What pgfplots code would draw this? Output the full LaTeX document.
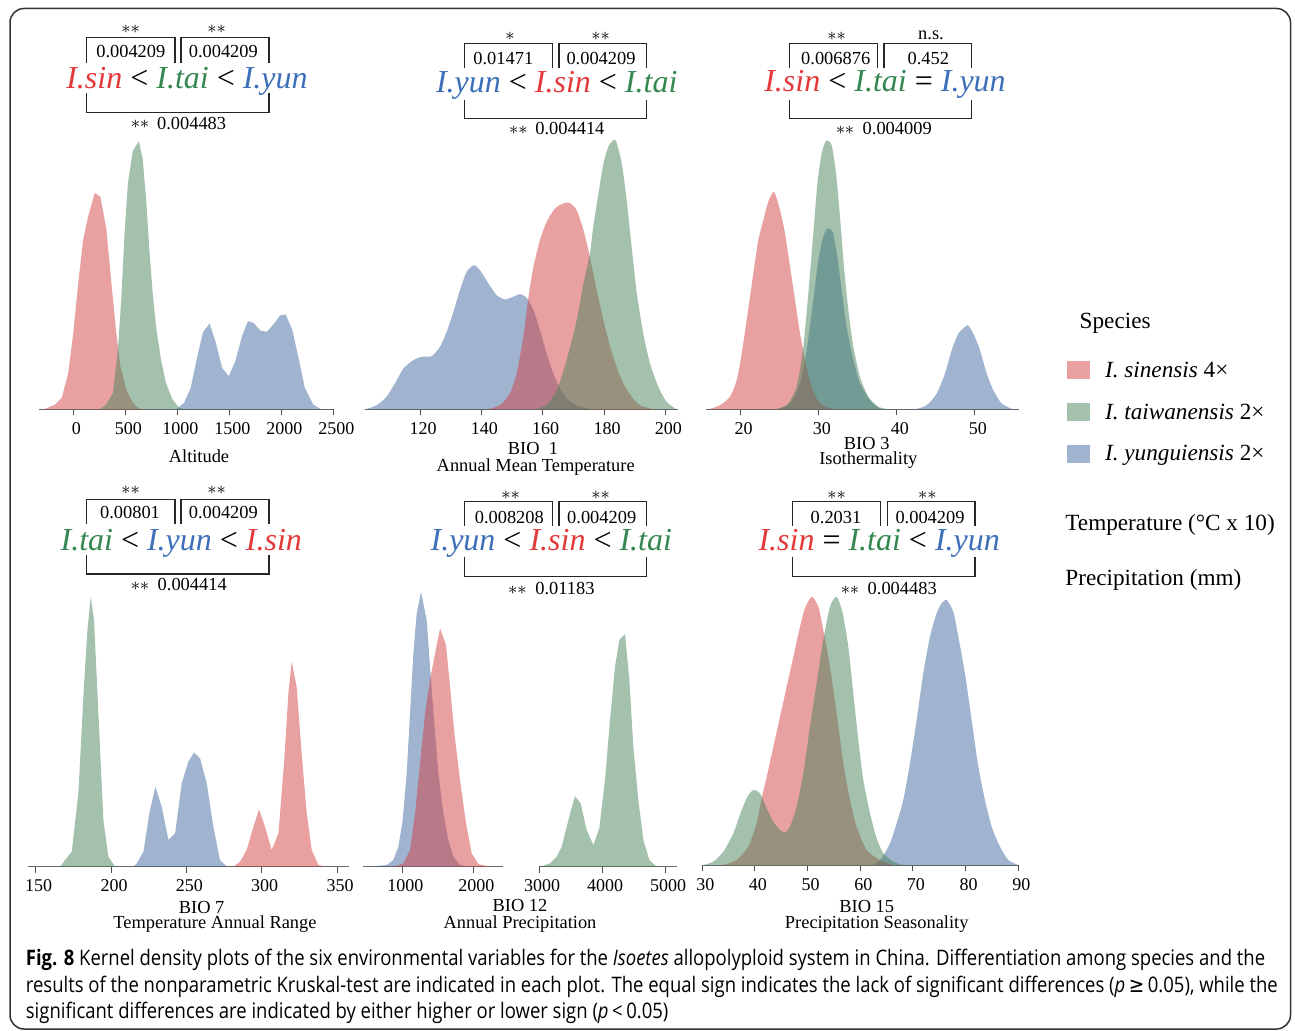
\documentclass[border=0pt]{standalone}
\usepackage{pgfplots}
\pgfplotsset{compat=1.18}
\usepackage{fontspec}
\setmainfont{Liberation Serif}
\newfontfamily\capfont{Open Sans}[FakeStretch=0.864]
\newfontfamily\capsym{DejaVu Sans}[FakeStretch=0.864]
\definecolor{fred}{RGB}{209,65,65}
\definecolor{fgreen}{RGB}{71,131,91}
\definecolor{fblue}{RGB}{65,105,161}
\definecolor{tred}{RGB}{226,58,58}
\definecolor{tgreen}{RGB}{52,135,80}
\definecolor{tblue}{RGB}{60,110,185}
\newcommand{\Isin}{\textcolor{tred}{\textit{I.sin}}}
\newcommand{\Itai}{\textcolor{tgreen}{\textit{I.tai}}}
\newcommand{\Iyun}{\textcolor{tblue}{\textit{I.yun}}}
\pgfplotsset{kd/.style={scale only axis, anchor=south west, axis y line=none, axis x line*=bottom,
  ymin=0, ymax=280, height=140pt, clip=false,
  axis line style={-,black!60,line width=0.5pt}, tick align=outside, major tick length=3pt,
  tick style={black!70,line width=0.5pt}, minor tick num=0, scaled x ticks=false,
  xticklabel style={font=\fontsize{9}{10}\selectfont, anchor=base, yshift=-9.5pt, xshift=1.5pt, inner sep=0pt},
  /pgf/number format/assume math mode=true, /pgf/number format/1000 sep={}},
  pr/.style={draw=none, fill=fred, fill opacity=0.5},
  pg/.style={draw=none, fill=fgreen, fill opacity=0.5},
  pb/.style={draw=none, fill=fblue, fill opacity=0.5}}
\begin{document}
\begin{tikzpicture}
% ---------- Panel 1: Altitude
\begin{axis}[kd, at={(19.5pt,-204.75pt)}, width=147.15pt, xmin=-330, xmax=2500, xtick={0,500,...,2500}]
\addplot[pb] coordinates {(986,0) (1065,6.7) (1129,21.7) (1193,53.3) (1247,77.3) (1310,86) (1367,68.3) (1431,41.7) (1495,33.3) (1558,48.3) (1622,73.3) (1679,88.3) (1733,86.7) (1797,79) (1860,77.7) (1924,85) (1988,94) (2042,95) (2105,80) (2162,53.3) (2226,21.7) (2306,5) (2385,0)} \closedcycle;
\addplot[pr] coordinates {(-286,0) (-175,5) (-111,11.7) (-48,36.7) (0,76.7) (48,126.7) (95,170) (143,193.3) (207,216.7) (261,212.7) (318,180) (366,126.7) (413,76.7) (452,43.3) (509,20) (572,6.7) (636,0.7) (700,0)} \closedcycle;
\addplot[pg] coordinates {(254,0) (318,5) (382,16.7) (429,60) (461,110) (493,176.7) (525,226.7) (572,258.3) (630,268.3) (668,250) (700,210) (731,160) (763,116.7) (795,83.3) (843,50) (890,26.7) (954,10) (1018,1.7) (1081,0)} \closedcycle;
\end{axis}
% ---------- Panel 2: BIO 1
\begin{axis}[kd, at={(182.4pt,-204.75pt)}, width=156.4pt, xmin=102, xmax=204, xtick={120,140,...,200}]
\addplot[pb, smooth, tension=0.4] coordinates {(102.1,0) (105.9,4.3) (109.1,12.7) (111.8,26) (114.6,41) (117.8,49.3) (120.5,52.7) (123.8,53.3) (126.5,62.7) (128.7,77.7) (130.9,97.7) (133.0,119.3) (135.2,137.7) (137.6,144.3) (139.6,139.3) (142.3,126) (145.0,114.3) (147.7,110) (150.4,112.7) (152.6,115.3) (154.8,111.7) (157.0,99.3) (159.1,79.3) (161.3,56) (163.5,36) (165.7,21) (168.4,9.3) (172.2,2.7) (176.5,0)} \closedcycle;
\addplot[pr, smooth, tension=0.4] coordinates {(141.7,0) (146.1,4.3) (149.3,16) (151.5,36) (153.7,72.7) (155.3,111) (157.0,142.7) (159.1,169.3) (161.3,187.7) (164.0,201) (166.7,206) (168.7,206.7) (171.1,199.3) (173.3,179.3) (175.4,152.7) (177.6,119.3) (179.8,89.3) (182.0,62.7) (184.1,42.7) (186.3,26) (189.0,12.7) (191.7,4.3) (196.1,0)} \closedcycle;
\addplot[pg, smooth, tension=0.4] coordinates {(157.0,0) (161.3,4.3) (164.6,19.3) (167.8,49.3) (171.1,89.3) (173.3,126) (175.4,156) (176.5,182.7) (178.2,216) (179.8,246) (181.4,262.7) (182.8,268.7) (183.9,268.7) (185.8,246) (187.4,209.3) (189.0,162.7) (190.7,116) (192.8,76) (195.0,46) (197.7,22.7) (200.4,7.7) (203.7,0)} \closedcycle;
\end{axis}
% ---------- Panel 3: BIO 3 (with legend)
\begin{axis}[kd, at={(353.15pt,-204.75pt)}, width=156.2pt, xmin=15.6, xmax=55.6, xtick={20,30,40,50},
  legend style={at={(axis description cs:1.1537,0.1732)}, anchor=north west, draw=none, fill=none, inner sep=0pt,
    row sep=11.25pt, column sep=7.5pt, font=\fontsize{11.6}{13}\selectfont, nodes={inner sep=0pt}},
  legend cell align=left,
  legend image code/.code={\fill[#1] (0pt,-4pt) rectangle (11.5pt,5pt);}]
\addplot[pb, smooth, tension=0.4, forget plot] coordinates {(24.61,0) (26.32,6) (27.60,26) (28.45,59.3) (29.30,109.3) (29.94,149.3) (30.58,172.7) (31.10,181) (31.78,177.7) (32.38,152.7) (32.93,119.3) (33.57,82.7) (34.43,49.3) (35.28,26) (36.56,9.3) (37.84,1) (39,0) (42.11,0) (43.82,4.3) (45.10,16) (46.16,36) (47.02,59.3) (47.87,76) (48.51,81) (49.07,84.3) (49.79,76) (50.64,59.3) (51.50,36) (52.35,19.3) (53.42,6) (54.91,0)} \closedcycle;
\addplot[pr, smooth, tension=0.4, forget plot] coordinates {(15.86,0) (17.35,4.3) (18.63,12.7) (19.49,29.3) (20.13,56) (20.77,89.3) (21.62,136) (22.26,169.3) (22.90,189.3) (23.54,207.7) (24.27,217.7) (25.04,199.3) (25.68,176) (26.32,142.7) (26.96,109.3) (27.60,76) (28.24,49.3) (28.88,27.7) (29.73,11) (30.80,2.7) (32.29,0)} \closedcycle;
\addplot[pg, smooth, tension=0.4, forget plot] coordinates {(24.18,0) (25.89,4.3) (27.17,22.7) (28.02,62.7) (28.66,116) (29.30,176) (29.82,226) (30.37,256) (30.93,268.7) (31.65,264.3) (32.21,236) (32.72,192.7) (33.23,142.7) (33.79,99.3) (34.43,62.7) (35.28,32.7) (36.35,12.7) (37.63,2.7) (39.12,0)} \closedcycle;
\addlegendimage{pr}
\addlegendentry{\textit{I. sinensis} 4×}
\addlegendimage{pg}
\addlegendentry{\textit{I. taiwanensis} 2×}
\addlegendimage{pb}
\addlegendentry{\textit{I. yunguiensis} 2×}
\end{axis}
% ---------- Panel 4: BIO 7
\begin{axis}[kd, at={(14.1pt,-433.35pt)}, width=160.45pt, xmin=145, xmax=358, xtick={150,200,...,350}]
\addplot[pg] coordinates {(166.2,0) (169.5,6.7) (173.9,15) (178.3,73.3) (181.6,170) (184.3,236.7) (186.5,270) (188.7,246.7) (191.6,153.3) (194.9,46.7) (198.2,10) (202.7,0)} \closedcycle;
\addplot[pb] coordinates {(214.8,0) (217.0,3.3) (221.5,15) (225.4,53.3) (229.4,80) (233.6,60) (238.1,26.7) (242.5,33.3) (246.9,83.3) (251.3,105) (255.1,114.3) (259.1,108.3) (263.5,83.3) (267.9,40) (272.3,6.7) (276.8,0)} \closedcycle;
\addplot[pr] coordinates {(281.2,0) (285.6,5) (290.0,16.7) (294.5,40) (298.2,57.3) (302.2,40) (306.6,16.7) (311.1,33.3) (314.8,103.3) (317.7,173.3) (319.9,205) (323.2,180) (326.5,113.3) (329.9,53.3) (333.2,16.7) (337.6,1.7) (342.0,0)} \closedcycle;
\end{axis}
% ---------- Panel 5: BIO 12 (two segments)
\begin{axis}[kd, at={(181.65pt,-433.35pt)}, width=69.95pt, xmin=450, xmax=2420, xtick={1000,2000}]
\addplot[pb] coordinates {(497.6,0) (779.3,1.7) (873.2,6.7) (943.7,20) (1004.7,46.7) (1061.0,93.3) (1108.0,153.3) (1154.9,213.3) (1201.9,253.3) (1262.9,275) (1342.7,246.7) (1389.7,200) (1446.0,146.7) (1507.1,93.3) (1577.5,53.3) (1647.9,26.7) (1718.3,10) (1812.2,1.7) (1953.1,0)} \closedcycle;
\addplot[pr] coordinates {(873.2,0) (1014.1,3.3) (1108.0,16.7) (1178.4,53.3) (1248.8,103.3) (1319.3,153.3) (1389.7,186.7) (1460.1,213.3) (1530.5,238.3) (1615.0,221.7) (1671.4,180) (1732.4,133.3) (1812.2,86.7) (1896.7,43.3) (1976.6,13.3) (2070.5,2.7) (2234.8,0)} \closedcycle;
\end{axis}
\begin{axis}[kd, at={(269.5pt,-433.35pt)}, width=68.85pt, xmin=3000, xmax=5185, xtick={3000,4000,5000}]
\addplot[pg] coordinates {(3016,0) (3175,3.3) (3280,10) (3360,20) (3439,40) (3508,56.7) (3571,70.7) (3661,63.3) (3756,36.7) (3862,21.7) (3957,38.3) (4047,86.7) (4127,146.7) (4206,200) (4275,226.7) (4365,232.7) (4434,186.7) (4497,120) (4576,66.7) (4656,26.7) (4751,6.7) (4867,0)} \closedcycle;
\end{axis}
% ---------- Panel 6: BIO 15
\begin{axis}[kd, at={(351.15pt,-432.5pt)}, width=158pt, xmin=30, xmax=90, xtick={30,40,...,90}]
\addplot[pb, smooth, tension=0.4] coordinates {(62.47,0) (64.05,6.7) (65.63,21.7) (66.90,41.7) (68.16,65) (69.43,101.7) (70.70,145) (71.96,191.7) (73.23,228.3) (74.49,251.7) (75.44,261.7) (76.39,265) (77.66,253.3) (78.61,228.3) (79.87,191.7) (81.14,145) (82.41,98.3) (83.67,65) (84.94,38.3) (86.52,18.3) (88.10,5) (90.0,0)} \closedcycle;
\addplot[pr, smooth, tension=0.4] coordinates {(33.99,0) (36.52,5) (38.73,18.3) (40.32,41.7) (41.27,66.7) (42.22,88) (43.48,118) (44.75,148) (46.01,178) (47.28,208) (48.54,238) (49.49,256.7) (50.76,268.3) (52.03,258.3) (52.97,235) (54.24,198.3) (55.51,151.7) (56.77,101.7) (58.04,65) (59.30,38.3) (61.20,15) (63.73,5) (66.27,0)} \closedcycle;
\addplot[pg, smooth, tension=0.4] coordinates {(30.19,0) (32.09,3.3) (33.99,13.3) (35.89,31.7) (37.47,55) (38.73,70) (39.81,75) (40.95,71.7) (42.22,56.7) (43.48,43.3) (44.75,35) (45.70,32.7) (46.65,38.3) (47.91,58.3) (49.18,91.7) (50.44,138.3) (51.71,181.7) (52.97,225) (54.24,258.3) (55.51,268.3) (56.65,251.7) (57.72,218.3) (58.67,171.7) (59.62,125) (60.57,85) (61.84,51.7) (63.10,26.7) (64.37,11.7) (66.27,3.3) (68.16,0)} \closedcycle;
\end{axis}
% ---------- Annotations (pixel coordinates)
\begin{scope}[x=0.5pt,y=-0.5pt,
  st/.style={inner sep=0pt, anchor=center, font=\fontsize{9.2}{10}\selectfont},
  nb/.style={inner sep=0pt, anchor=base, font=\fontsize{9.2}{10}\selectfont},
  nbw/.style={inner sep=0pt, anchor=base west, font=\fontsize{9.2}{10}\selectfont},
  cmp/.style={inner sep=0pt, anchor=base, font=\fontsize{16}{18}\selectfont},
  br/.style={line width=0.65pt, black!85},
  lg/.style={inner sep=0pt, anchor=base west, font=\fontsize{11.6}{13}\selectfont}]
\useasboundingbox (0,0) rectangle (1295,1031);
\draw[rounded corners=7pt, line width=0.75pt, black!80] (10,8.5) rectangle (1290.5,1029);
% P1
\node[st] at (130.7,29.3) {$\ast\ast$}; \node[st] at (216.7,29.3) {$\ast\ast$};
\draw[br] (86.7,62.7) -- (86.7,37.7) -- (175,37.7) -- (175,62.7);
\draw[br] (181,62.7) -- (181,37.7) -- (269,37.7) -- (269,62.7);
\node[nb] at (130.8,57.3) {0.004209}; \node[nb] at (223.3,57.3) {0.004209};
\node[cmp] at (187,88.3) {\Isin{} < \Itai{} < \Iyun};
\draw[br] (86.7,93.3) -- (86.7,112.7) -- (269,112.7) -- (269,93.3);
\node[st] at (140,124) {$\ast\ast$}; \node[nbw] at (156.7,129.3) {0.004483};
\node[nb] at (199,463) {Altitude};
% P2
\node[st] at (510,36) {$\ast$}; \node[st] at (600.7,36) {$\ast\ast$};
\draw[br] (464.3,68.3) -- (464.3,43.3) -- (552.7,43.3) -- (552.7,68.3);
\draw[br] (559,68.3) -- (559,43.3) -- (646.7,43.3) -- (646.7,68.3);
\node[nb] at (503.3,65) {0.01471}; \node[nb] at (601,65) {0.004209};
\node[cmp] at (556.7,92.7) {\Iyun{} < \Isin{} < \Itai};
\draw[br] (464.3,100) -- (464.3,118.3) -- (646.7,118.3) -- (646.7,100);
\node[st] at (518.3,130.7) {$\ast\ast$}; \node[nbw] at (535,135) {0.004414};
\node[nb] at (533,455) {BIO~~1};
\node[nb] at (535.7,471.7) {Annual Mean Temperature};
% P3
\node[st] at (836.7,36) {$\ast\ast$}; \node[nb] at (931,40) {n.s.};
\draw[br] (789.3,68.3) -- (789.3,43.3) -- (877.7,43.3) -- (877.7,68.3);
\draw[br] (884,68.3) -- (884,43.3) -- (971.7,43.3) -- (971.7,68.3);
\node[nb] at (835.7,65) {0.006876}; \node[nb] at (928.3,65) {0.452};
\node[cmp] at (885,91.7) {\Isin{} < \Itai{} = \Iyun};
\draw[br] (789.3,100) -- (789.3,118.3) -- (971.7,118.3) -- (971.7,100);
\node[st] at (845,130.7) {$\ast\ast$}; \node[nbw] at (862.3,135) {0.004009};
\node[nb] at (866.7,450) {BIO 3};
\node[nb] at (868.3,465) {Isothermality};
% P4
\node[st] at (130.7,490.7) {$\ast\ast$}; \node[st] at (216.7,490.7) {$\ast\ast$};
\draw[br] (86.7,524) -- (86.7,499.3) -- (175,499.3) -- (175,524);
\draw[br] (181,524) -- (181,499.3) -- (269,499.3) -- (269,524);
\node[nb] at (130,519) {0.00801}; \node[nb] at (223.3,519) {0.004209};
\node[cmp] at (181.3,550.7) {\Itai{} < \Iyun{} < \Isin};
\draw[br] (86.7,555) -- (86.7,574) -- (269,574) -- (269,555);
\node[st] at (140,586) {$\ast\ast$}; \node[nbw] at (157.3,590) {0.004414};
\node[nb] at (201.7,913.3) {BIO 7};
\node[nb] at (215,928.3) {Temperature Annual Range};
% P5
\node[st] at (510.7,495) {$\ast\ast$}; \node[st] at (600.7,495) {$\ast\ast$};
\draw[br] (464.3,526) -- (464.3,501.7) -- (552.7,501.7) -- (552.7,526);
\draw[br] (559,526) -- (559,501.7) -- (646.7,501.7) -- (646.7,526);
\node[nb] at (509.3,523.3) {0.008208}; \node[nb] at (601.7,523.3) {0.004209};
\node[cmp] at (551.3,550.7) {\Iyun{} < \Isin{} < \Itai};
\draw[br] (464.3,557.3) -- (464.3,576.7) -- (646.7,576.7) -- (646.7,557.3);
\node[st] at (517.3,590) {$\ast\ast$}; \node[nbw] at (535,594) {0.01183};
\node[nb] at (520,911.7) {BIO 12};
\node[nb] at (520,928.3) {Annual Precipitation};
% P6
\node[st] at (836.7,495) {$\ast\ast$}; \node[st] at (927.3,495) {$\ast\ast$};
\draw[br] (792.3,526) -- (792.3,501.7) -- (880.7,501.7) -- (880.7,526);
\draw[br] (887.3,526) -- (887.3,501.7) -- (975,501.7) -- (975,526);
\node[nb] at (836,523.3) {0.2031}; \node[nb] at (930,523.3) {0.004209};
\node[cmp] at (879.2,550.7) {\Isin{} = \Itai{} < \Iyun};
\draw[br] (792.3,557.3) -- (792.3,576.7) -- (975,576.7) -- (975,557.3);
\node[st] at (850,590) {$\ast\ast$}; \node[nbw] at (867.3,594) {0.004483};
\node[nb] at (866.7,912.3) {BIO 15};
\node[nb] at (876.7,928.3) {Precipitation Seasonality};
% legend texts
\node[lg] at (1079.3,328.7) {Species};
\node[lg] at (1065,530.4) {Temperature (°C x 10)};
\node[lg] at (1065,585.4) {Precipitation (mm)};
% caption
\begin{scope}[every node/.style={inner sep=0pt, anchor=base west, font={\fontsize{10.7}{12}\capfont}}]
\node at (25.5,965.3) {\textbf{Fig. 8} Kernel density plots of the six environmental variables for the \textit{Isoetes} allopolyploid system in China. Differentiation among species and the};
\node at (25.5,992) {results of the nonparametric Kruskal-test are indicated in each plot. The equal sign indicates the lack of significant differences (\textit{p}\,{\capsym ≥}\,0.05), while the};
\node at (25.5,1018.5) {significant differences are indicated by either higher or lower sign (\textit{p}\,<\,0.05)};
\end{scope}
\end{scope}
\end{tikzpicture}
\end{document}
